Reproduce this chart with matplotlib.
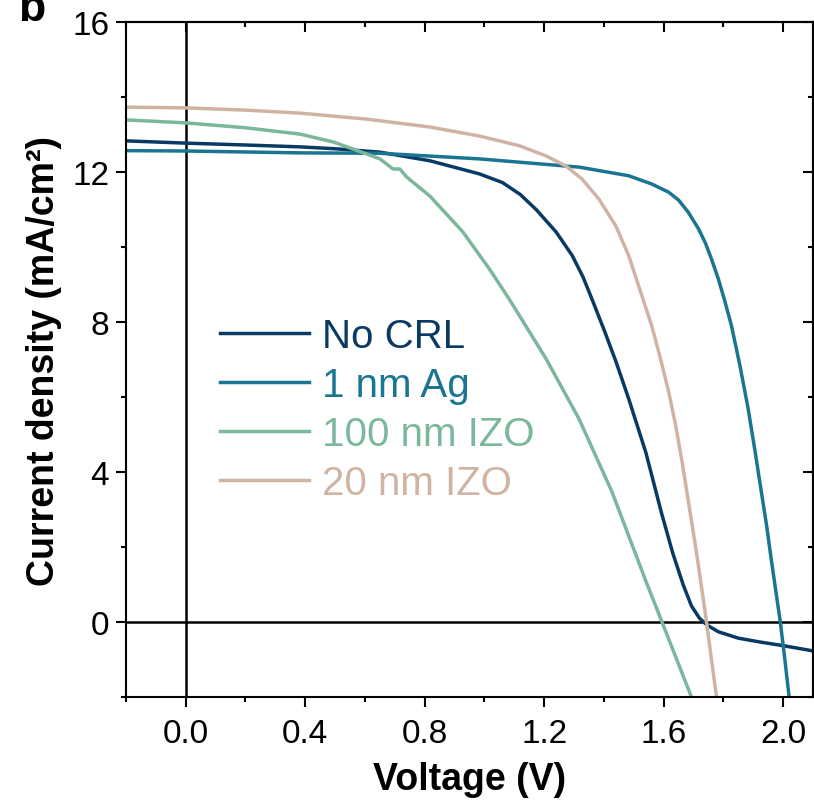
import numpy as np
import matplotlib
matplotlib.use("Agg")
import matplotlib.pyplot as plt
from matplotlib.ticker import MultipleLocator, FormatStrFormatter

plt.rcParams['font.family'] = ['Liberation Sans', 'DejaVu Sans']

# J-V curves
v_nocrl = [-0.2, 0.0, 0.2, 0.383, 0.5, 0.65, 0.817, 0.983, 1.06, 1.12, 1.173, 1.24, 1.294, 1.33, 1.36,
           1.4, 1.44, 1.483, 1.54, 1.593, 1.63, 1.665, 1.693, 1.72, 1.745, 1.783, 1.85, 1.92, 2.0, 2.1]
j_nocrl = [12.83, 12.77, 12.72, 12.67, 12.62, 12.53, 12.3, 11.95, 11.72, 11.4, 11.0, 10.4, 9.77, 9.2, 8.61,
           7.8, 6.95, 5.95, 4.53, 2.9, 1.85, 1.0, 0.43, 0.1, -0.08, -0.26, -0.43, -0.53, -0.63, -0.77]

v_ag = [-0.2, 0.0, 0.383, 0.65, 0.983, 1.317, 1.483, 1.56, 1.617, 1.65, 1.683, 1.717, 1.74, 1.76,
        1.783, 1.805, 1.827, 1.855, 1.883, 1.905, 1.927, 1.945, 1.96, 1.975, 1.99, 2.005, 2.02]
j_ag = [12.57, 12.56, 12.51, 12.5, 12.35, 12.13, 11.9, 11.68, 11.46, 11.25, 10.92, 10.48, 10.1, 9.68,
        9.15, 8.55, 7.9, 6.85, 5.68, 4.6, 3.47, 2.55, 1.68, 0.85, 0.03, -0.95, -2.0]

v_izo100 = [-0.2, 0.0, 0.2, 0.383, 0.494, 0.606, 0.65, 0.694, 0.717, 0.739, 0.817, 0.928, 1.017,
            1.083, 1.207, 1.317, 1.427, 1.54, 1.593, 1.693]
j_izo100 = [13.39, 13.31, 13.18, 13.01, 12.8, 12.48, 12.35, 12.08, 12.08, 11.87, 11.36, 10.4, 9.41,
            8.61, 7.01, 5.41, 3.47, 1.1, 0.03, -2.0]

v_izo20 = [-0.2, 0.0, 0.2, 0.383, 0.606, 0.817, 0.983, 1.117, 1.206, 1.273, 1.327, 1.383, 1.44,
           1.483, 1.527, 1.56, 1.59, 1.617, 1.64, 1.66, 1.68, 1.693, 1.71, 1.723, 1.743, 1.76, 1.777]
j_izo20 = [13.73, 13.71, 13.65, 13.57, 13.41, 13.2, 12.96, 12.7, 12.43, 12.16, 11.81, 11.28, 10.56,
           9.77, 8.7, 7.9, 7.0, 6.13, 5.25, 4.35, 3.35, 2.7, 1.85, 1.13, 0.03, -1.0, -2.0]

labels = ['No CRL', '1 nm Ag', '100 nm IZO', '20 nm IZO']
colors = ['#083a63', '#1a7690', '#7bb89b', '#d0b4a3']

fig = plt.figure(figsize=(8.14, 8.04), dpi=100)
ax = fig.add_axes([0.1548, 0.1318, 0.8440, 0.8396])

ax.axhline(0, color='black', lw=1.8, zorder=1)
ax.axvline(0, color='black', lw=1.8, zorder=1)

series = [(v_nocrl, j_nocrl), (v_ag, j_ag), (v_izo100, j_izo100), (v_izo20, j_izo20)]
for (v, j), lab, c in zip(series, labels, colors):
    ax.plot(v, j, color=c, lw=2.5, label=lab, zorder=2, solid_joinstyle='round')

ax.set_xlim(-0.2, 2.1)
ax.set_ylim(-2, 16)
ax.xaxis.set_major_locator(MultipleLocator(0.4))
ax.xaxis.set_minor_locator(MultipleLocator(0.2))
ax.xaxis.set_major_formatter(FormatStrFormatter('%.1f'))
ax.yaxis.set_major_locator(MultipleLocator(4))
ax.yaxis.set_minor_locator(MultipleLocator(2))

for s in ax.spines.values():
    s.set_linewidth(1.5)
ax.tick_params(which='major', direction='out', length=7, width=1.5, labelsize=24)
ax.tick_params(which='minor', direction='out', length=3.5, width=1.5)
ax.tick_params(axis='x', which='major', pad=8)
ax.tick_params(axis='y', which='major', pad=5)

# mirrored inward ticks on top / right
top = ax.secondary_xaxis('top')
top.xaxis.set_major_locator(MultipleLocator(0.4))
top.xaxis.set_minor_locator(MultipleLocator(0.2))
top.tick_params(which='major', direction='in', length=7, width=1.5, labeltop=False)
top.tick_params(which='minor', direction='in', length=3.5, width=1.5)
right = ax.secondary_yaxis('right')
right.yaxis.set_major_locator(MultipleLocator(4))
right.yaxis.set_minor_locator(MultipleLocator(2))
right.tick_params(which='major', direction='in', length=7, width=1.5, labelright=False)
right.tick_params(which='minor', direction='in', length=3.5, width=1.5)
for sec in (top, right):
    for s in sec.spines.values():
        s.set_linewidth(1.5)

ax.set_xlabel('Voltage (V)', fontsize=27, fontweight='bold', labelpad=9)
ax.set_ylabel('Current density (mA/cm²)', fontsize=27, fontweight='bold', labelpad=7)

ax.legend(loc='upper left', bbox_to_anchor=(0.137, 0.563), frameon=False, fontsize=29,
          handlelength=2.2, handletextpad=0.32, labelspacing=0.27, borderpad=0, borderaxespad=0,
          labelcolor='linecolor')

fig.text(0.022, 1 - 21 / 804, 'b', fontsize=32, fontweight='bold', va='baseline', ha='left')

fig.savefig('out.png', dpi=100)
